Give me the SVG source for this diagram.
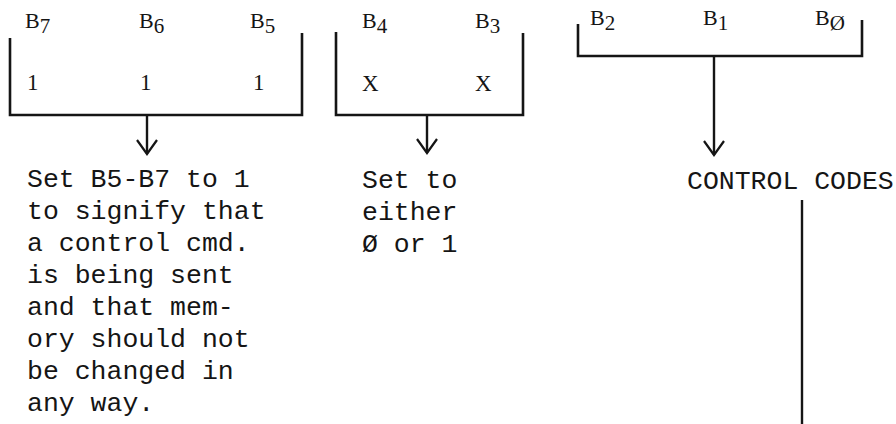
<svg xmlns="http://www.w3.org/2000/svg" width="896" height="424" viewBox="0 0 896 424">
<style>
.br{fill:none;stroke:#151515;stroke-width:2.6;stroke-linejoin:miter}
.ln{fill:none;stroke:#151515;stroke-width:2.4}
.lbl{font-family:"Liberation Serif",serif;font-size:22px;fill:#151515}
.sub{font-size:21px}
.val{font-family:"Liberation Serif",serif;font-size:23px;fill:#151515}
.txt{font-family:"Liberation Mono","DejaVu Sans Mono",monospace;font-size:26.5px;fill:#151515}
</style>
<defs>
<marker id="vhead" markerUnits="userSpaceOnUse" markerWidth="30" markerHeight="30" refX="0" refY="0" orient="auto" overflow="visible">
<path d="M-14,-10 L0,0 L-14,10" fill="none" stroke="#151515" stroke-width="2.2"/>
</marker>
</defs>
<rect width="896" height="424" fill="#ffffff"/>

<g id="field-b7-b5">
<path class="br" d="M10,38 V115 H302 V33"/>
<text class="lbl" x="25" y="28">B<tspan class="sub" dy="5">7</tspan></text>
<text class="lbl" x="139" y="28">B<tspan class="sub" dy="5">6</tspan></text>
<text class="lbl" x="250" y="28">B<tspan class="sub" dy="5">5</tspan></text>
<text class="val" x="27" y="90">1</text>
<text class="val" x="140" y="90">1</text>
<text class="val" x="253" y="90">1</text>
</g>

<g id="field-b4-b3">
<path class="br" d="M336,32 V115 H523 V33"/>
<text class="lbl" x="362" y="28">B<tspan class="sub" dy="5">4</tspan></text>
<text class="lbl" x="475" y="28">B<tspan class="sub" dy="5">3</tspan></text>
<text class="val" x="362" y="91">X</text>
<text class="val" x="475" y="91">X</text>
</g>

<g id="field-b2-b0">
<path class="br" d="M578,24 V56 H862 V20"/>
<text class="lbl" x="590" y="25">B<tspan class="sub" dy="5">2</tspan></text>
<text class="lbl" x="703" y="25">B<tspan class="sub" dy="5">1</tspan></text>
<text class="lbl" x="815" y="25">B<tspan class="sub" dy="5">Ø</tspan></text>
</g>

<g id="desc-b7-b5" class="txt">
<text x="27" y="187">Set B5-B7 to 1</text>
<text x="27" y="219">to signify that</text>
<text x="27" y="251">a control cmd.</text>
<text x="27" y="283">is being sent</text>
<text x="27" y="315">and that mem-</text>
<text x="27" y="347">ory should not</text>
<text x="27" y="379">be changed in</text>
<text x="27" y="411">any way.</text>
</g>

<g id="desc-b4-b3" class="txt">
<text x="362" y="188">Set to</text>
<text x="362" y="220">either</text>
<text x="362" y="252">Ø or 1</text>
</g>

<g id="control-codes" class="txt">
<text x="687" y="189">CONTROL CODES</text>
</g>

<g id="connectors">
<line class="ln" x1="147" y1="115" x2="147" y2="154" marker-end="url(#vhead)"/>
<line class="ln" x1="427" y1="115" x2="427" y2="153" marker-end="url(#vhead)"/>
<line class="ln" x1="714" y1="56" x2="714" y2="155" marker-end="url(#vhead)"/>
<line class="ln" x1="802" y1="200" x2="802" y2="424"/>
</g>
</svg>
